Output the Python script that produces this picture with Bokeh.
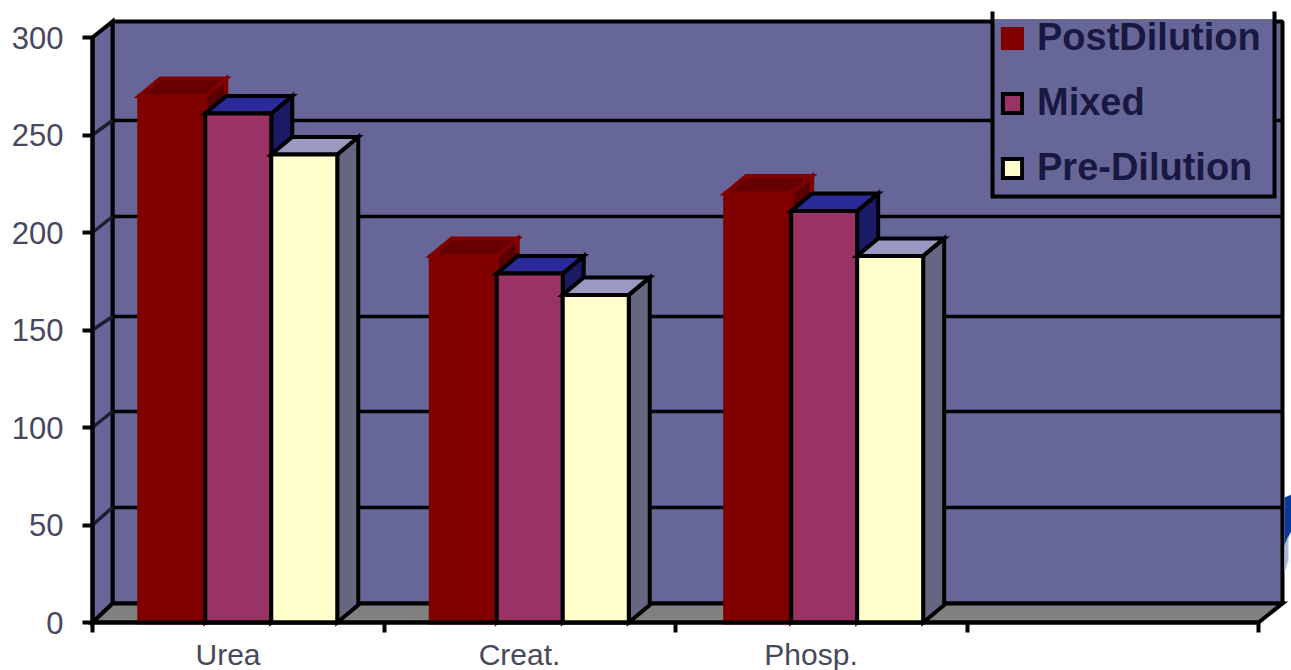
from bokeh.embed import file_html
from bokeh.models import FixedTicker, Legend, LegendItem, Range1d
from bokeh.plotting import figure
from bokeh.resources import INLINE

# Chart values
categories = ["Urea", "Creat.", "Phosp."]
category_centers = [0.5, 1.5, 2.51]
series_names = ["PostDilution", "Mixed", "Pre-Dilution"]
post_dilution = [270, 188, 220]
mixed = [261, 179, 211]
pre_dilution = [240, 168, 188]
y_ticks = [0, 50, 100, 150, 200, 250, 300]

# Canvas and scale set-up: one category spans 291.5 px, one unit 1.95 px
WIDTH, HEIGHT = 1291, 670
X0, Y0 = 92, 622
SX, SY = 291.5, 1.95


def xd(px):
    return (px - X0) / SX


def yd(py):
    return (Y0 - py) / SY


# Depth of the pseudo 3D box, in data units
WALL_DX = xd(112)
WALL_RIGHT = xd(1282)
AXIS_END = 4
BAR_W = 66 / SX
BAR_DX = 21 / SX
BAR_DY = 17.5 / SY

# Vertical position of each tick level on the back wall
WALL_ROWS = [603, 507, 411, 316, 216, 120, 21]

WALL = "#666699"
BLACK = "#000000"

p = figure(
    width=WIDTH, height=HEIGHT, output_backend="svg", toolbar_location=None,
    x_range=Range1d(xd(0), xd(WIDTH)), y_range=Range1d(yd(HEIGHT), yd(0)),
    min_border=0, min_border_left=0, min_border_right=0,
    min_border_top=0, min_border_bottom=0,
    background_fill_color="#ffffff", border_fill_color="#ffffff",
)
p.outline_line_color = None
p.grid.visible = False

wall_bottom, wall_top = yd(WALL_ROWS[0]), yd(WALL_ROWS[-1])

# Back wall, side wall and floor
p.quad(left=WALL_DX, right=WALL_RIGHT, bottom=wall_bottom, top=wall_top,
       fill_color=WALL, line_color=BLACK, line_width=4)
p.patch([0, WALL_DX, WALL_DX, 0], [0, wall_bottom, wall_top, 300],
        fill_color=WALL, line_color=BLACK, line_width=4, line_join="miter")
p.patch([0, WALL_DX, WALL_RIGHT, AXIS_END], [0, wall_bottom, wall_bottom, 0],
        fill_color="#808080", line_color=BLACK, line_width=4, line_join="miter")

# Gridlines run across the back wall and fold down the side wall
for v, row in zip(y_ticks[1:-1], WALL_ROWS[1:-1]):
    p.line([WALL_DX, WALL_RIGHT], [yd(row), yd(row)], line_color=BLACK, line_width=3.5)
    p.line([0, WALL_DX], [v, yd(row)], line_color="#1c1c30", line_width=3.5)

# Stray blue sliver at the right edge of the image
p.patch([xd(1284), xd(1291), xd(1291), xd(1284)], [yd(497), yd(494), yd(530), yd(545)],
        fill_color="#0a3a9c", line_color=None)
p.patch([xd(1284), xd(1288), xd(1288), xd(1284)], [yd(545), yd(535), yd(560), yd(572)],
        fill_color="#a8bce0", line_color=None)

# Colours per series: front, top, side, outline
styles = [
    ("#800000", "#660000", "#5a0000", "#800000"),
    ("#993366", "#2a2a99", "#1a1a66", BLACK),
    ("#ffffcc", "#9999c2", "#666680", BLACK),
]
series_values = [post_dilution, mixed, pre_dilution]

fronts = []
for c, center in enumerate(category_centers):
    for s, values in enumerate(series_values):
        v = values[c]
        left = center + (s - 1.5) * BAR_W
        right = left + BAR_W
        front, top, side, edge = styles[s]
        # side face, then top face, then the front of the column
        p.patch([right, right + BAR_DX, right + BAR_DX, right],
                [0, BAR_DY, v + BAR_DY, v],
                fill_color=side, line_color=edge, line_width=4, line_join="miter")
        p.patch([left, left + BAR_DX, right + BAR_DX, right],
                [v, v + BAR_DY, v + BAR_DY, v],
                fill_color=top, line_color=edge, line_width=4, line_join="miter")
        r = p.quad(left=left, right=right, bottom=0, top=v,
                   fill_color=front, line_color=edge, line_width=4,
                   line_join="miter")
        if c == 0:
            fronts.append(r)

# Axes sit at the origin of the box
xaxis = p.xaxis[0]
xaxis.fixed_location = 0
xaxis.bounds = (0, AXIS_END)
label_ticks = [0.465, 1.465, 2.465]
xaxis.ticker = FixedTicker(ticks=label_ticks, minor_ticks=[0, 1, 2, 3, 4])
xaxis.major_label_overrides = dict(zip(label_ticks, categories))
xaxis.major_tick_line_color = None
xaxis.minor_tick_in = 0
xaxis.minor_tick_out = 10
xaxis.minor_tick_line_color = BLACK
xaxis.minor_tick_line_width = 4
xaxis.axis_line_color = BLACK
xaxis.axis_line_width = 4
xaxis.major_label_standoff = 5
xaxis.major_label_text_font = "Liberation Sans"
xaxis.major_label_text_font_size = "30px"
xaxis.major_label_text_color = "#48485c"

yaxis = p.yaxis[0]
yaxis.fixed_location = 0
yaxis.bounds = (0, 300)
yaxis.ticker = FixedTicker(ticks=y_ticks, minor_ticks=[])
yaxis.major_tick_in = 0
yaxis.major_tick_out = 10
yaxis.major_tick_line_color = BLACK
yaxis.major_tick_line_width = 4
yaxis.axis_line_color = BLACK
yaxis.axis_line_width = 4
yaxis.major_label_standoff = 19
yaxis.major_label_text_font = "Liberation Sans"
yaxis.major_label_text_font_size = "31px"
yaxis.major_label_text_color = "#48485c"

# Legend panel: filled box with three edges, the side edges overshooting the wall top
p.quad(left=xd(992), right=xd(1274), bottom=yd(196), top=yd(19),
       fill_color=WALL, line_color=None)
p.line([xd(992), xd(992), xd(1274), xd(1274)], [yd(11), yd(196), yd(196), yd(11)],
       line_color=BLACK, line_width=4, line_join="miter")

legend = Legend(
    items=[LegendItem(label=n, renderers=[r]) for n, r in zip(series_names, fronts)],
    location=(1000, 481),
    orientation="vertical",
    margin=0, padding=7, spacing=22,
    glyph_width=24, glyph_height=24, label_height=36, label_standoff=13,
    background_fill_alpha=0, border_line_color=None,
    label_text_font="Liberation Sans", label_text_font_style="bold",
    label_text_font_size="38px", label_text_color="#181840",
)
p.add_layout(legend)

open("out.html", "w").write(file_html(p, INLINE))
